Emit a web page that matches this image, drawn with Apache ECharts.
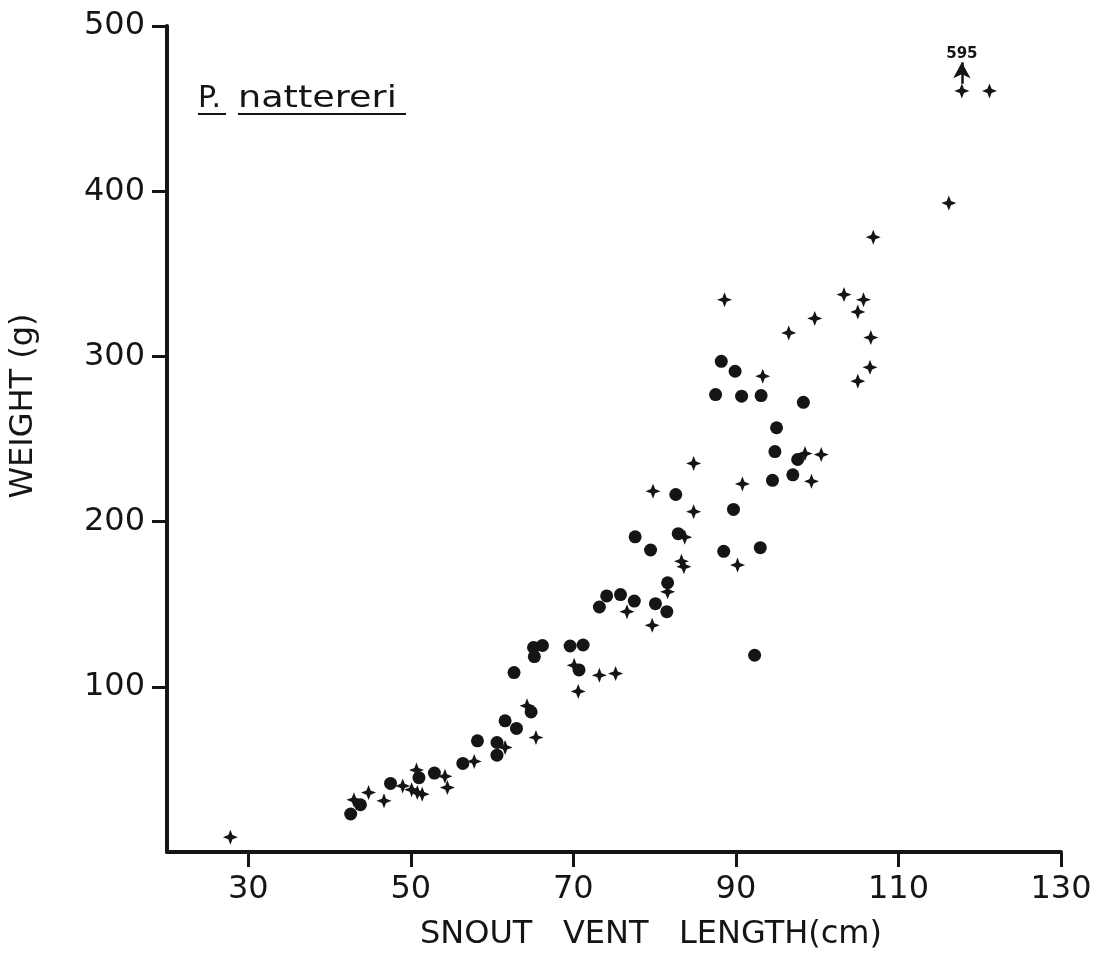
<!DOCTYPE html>
<html><head><meta charset="utf-8">
<script src="https://cdn.jsdelivr.net/npm/echarts@6/dist/echarts.min.js"></script>
<style>html,body{margin:0;padding:0;background:#fff}#chart{width:1108px;height:956px}</style>
</head><body><div id="chart"></div>
<script>
const xTicks = [30, 50, 70, 90, 110, 130];
const yTicks = [100, 200, 300, 400, 500];

const dotLength = [42.6, 43.8, 47.5, 51.0, 52.9, 56.4, 58.2, 60.6, 60.6, 61.6, 63.0, 64.8, 62.7, 65.1, 66.2, 65.2, 69.6, 71.2, 70.7, 73.2, 74.1, 75.8, 77.5, 80.1, 81.5, 81.6, 77.6, 79.5, 82.9, 82.6, 88.5, 89.7, 93.0, 92.3, 94.8, 97.6, 94.5, 97.0, 95.0, 88.2, 89.9, 87.5, 90.7, 93.1, 98.3];
const dotWeight = [23, 28.6, 41.5, 45, 47.8, 53.6, 67.3, 66.3, 58.6, 79.4, 74.8, 84.8, 108.6, 123.8, 125, 118.3, 124.7, 125.3, 110.2, 148.3, 155, 155.8, 151.9, 150.3, 145.5, 163, 190.8, 182.8, 192.7, 216.4, 182, 207.4, 184.2, 119.1, 242.4, 237.6, 225, 228.3, 256.8, 297, 291, 276.9, 275.9, 276.3, 272.2];

const crossLength = [27.8, 43.0, 44.8, 46.7, 49.0, 50.1, 50.7, 50.8, 51.4, 54.2, 54.5, 57.8, 61.6, 65.4, 64.3, 70.1, 70.6, 73.2, 75.2, 76.6, 79.7, 81.6, 83.3, 83.6, 83.7, 84.8, 79.8, 84.8, 90.8, 90.2, 98.5, 100.5, 99.3, 93.3, 88.6, 96.5, 99.7, 103.3, 105.7, 105.0, 106.6, 106.5, 105.0, 106.9, 116.2, 117.8, 121.2];
const crossWeight = [9, 31.6, 36, 31, 40, 37.7, 49.6, 36, 35, 45.8, 39, 54.8, 63.3, 69.3, 88.5, 113, 97.2, 107, 108, 145.5, 137.2, 157.5, 176, 172.7, 190.6, 206, 218.4, 235.2, 222.8, 173.7, 241.2, 240.6, 224.4, 288, 334.3, 314.2, 323, 337.4, 334.3, 326.9, 311.4, 293.4, 285, 372.2, 392.8, 460.7, 460.7];

// off-scale point: plotted at top, true weight shown by arrow label
const arrowLength = [117.8];
const arrowWeight = [465, 478];
const arrowLabel = ['595'];

const FONT = '"DejaVu Sans", sans-serif';
const INK = '#151515';
const crossPath = 'path://M0,-10 L2.8,-2.8 L10,0 L2.8,2.8 L0,10 L-2.8,2.8 L-10,0 L-2.8,-2.8 Z';

const chart = echarts.init(document.getElementById('chart'), null, {renderer: 'canvas'});
chart.setOption({
  backgroundColor: '#ffffff',
  animation: false,
  grid: {left: 162, right: 47, top: 26, bottom: 103, containLabel: false},
  xAxis: {
    type: 'value', min: 20, max: 130,
    name: 'SNOUT   VENT   LENGTH(cm)',
    nameLocation: 'middle', nameGap: 67,
    nameTextStyle: {fontFamily: FONT, fontSize: 32, color: INK, padding: [0, 0, 0, 74]},
    axisLine: {show: true, lineStyle: {color: INK, width: 4}},
    axisTick: {show: true, inside: false, length: 15, lineStyle: {color: INK, width: 3}, customValues: xTicks},
    axisLabel: {show: true, margin: 22, fontFamily: FONT, fontSize: 32, color: INK, customValues: xTicks},
    splitLine: {show: false}
  },
  yAxis: {
    type: 'value', min: 0, max: 500,
    name: 'WEIGHT (g)',
    nameLocation: 'middle', nameGap: 127, nameRotate: 90,
    nameTextStyle: {fontFamily: FONT, fontSize: 32, color: INK, padding: [0, 0, 0, 66]},
    axisLine: {show: true, lineStyle: {color: INK, width: 4}},
    axisTick: {show: true, inside: false, length: 15, lineStyle: {color: INK, width: 3}, customValues: yTicks},
    axisLabel: {show: true, margin: 22, fontFamily: FONT, fontSize: 32, color: INK, customValues: yTicks},
    splitLine: {show: false}
  },
  graphic: [
    {type: 'text', left: 198, top: 84, style: {text: 'P.', font: '30px ' + FONT, fill: INK}},
    {type: 'text', left: 238, top: 84, scaleX: 1.22, style: {text: 'nattereri', font: '30px ' + FONT, fill: INK}},
    {type: 'line', shape: {x1: 198, y1: 114, x2: 226, y2: 114}, style: {stroke: INK, lineWidth: 2}},
    {type: 'line', shape: {x1: 238, y1: 114, x2: 406, y2: 114}, style: {stroke: INK, lineWidth: 2}}
  ],
  series: [
    {
      type: 'scatter', name: 'dots',
      data: dotLength.map((x, i) => [x, dotWeight[i]]),
      symbol: 'circle', symbolSize: 13,
      itemStyle: {color: INK, opacity: 1}
    },
    {
      type: 'scatter', name: 'crosses',
      data: crossLength.map((x, i) => [x, crossWeight[i]]),
      symbol: crossPath, symbolSize: 15,
      itemStyle: {color: INK, opacity: 1},
      markLine: {
        silent: true,
        symbol: ['none', 'arrow'], symbolSize: [13, 16],
        lineStyle: {color: INK, width: 2.5, type: 'solid'},
        label: {show: true, position: 'end', formatter: arrowLabel[0], fontFamily: FONT, fontSize: 15, fontWeight: 'bold', color: INK, distance: 1},
        data: [[{coord: [arrowLength[0], arrowWeight[0]]}, {coord: [arrowLength[0], arrowWeight[1]]}]]
      }
    }
  ]
});
</script>
</body></html>
